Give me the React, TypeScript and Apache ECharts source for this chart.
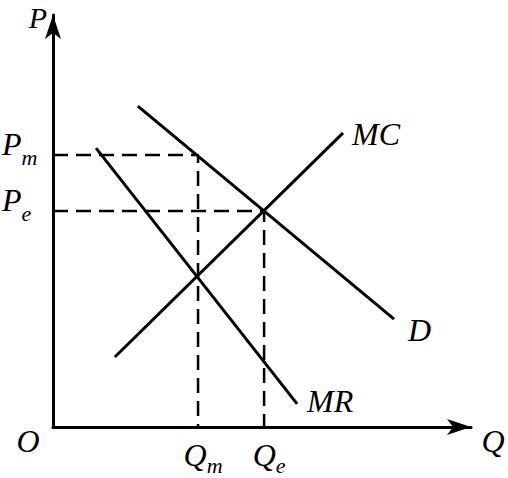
import React, { useEffect, useRef } from "react";
import * as echarts from "echarts";

// Axis ranges (abstract units)
const xRange = [0, 10];
const yRange = [0, 10];

// Curves: [Q values], [P values]
const demandQ = [2.03, 8.16];
const demandP = [7.79, 2.62];
const mcQ = [1.48, 6.94];
const mcP = [1.7, 7.14];
const mrQ = [1.03, 5.84];
const mrP = [6.77, 0.56];

// Key points
const Qm = 3.47;
const Pm = 6.6;
const Qe = 5.05;
const Pe = 5.24;

const curveNames = ["D", "MC", "MR"];
const yTickLabels = ["P_m", "P_e"];
const xTickLabels = ["Q_m", "Q_e"];

const FONT = "'Liberation Serif', 'Times New Roman', serif";

function pairs(xs: number[], ys: number[]) {
  return xs.map((x, i) => [x, ys[i]]);
}

export default function App() {
  const ref = useRef<HTMLDivElement>(null);

  useEffect(() => {
    if (!ref.current) return;
    const chart = echarts.init(ref.current, undefined, { renderer: "svg" });

    const solid = { color: "#000", width: 3 };
    const dashed = { color: "#000", width: 2.5, type: [15, 8] as any };
    const labelBase = {
      fontFamily: FONT,
      fontStyle: "italic" as const,
      fontSize: 32,
      color: "#000",
    };

    const curveSeries = (name: string, data: number[][], distance: number, offset: number[]) => ({
      type: "line",
      name,
      data,
      showSymbol: false,
      symbol: "none",
      lineStyle: solid,
      z: 5,
      clip: false,
      endLabel: {
        show: true,
        formatter: name,
        distance,
        offset,
        ...labelBase,
      },
    });

    const richY = {
      p: { ...labelBase, fontSize: 32 },
      s: { ...labelBase, fontSize: 22, padding: [28, 0, 0, 0] },
    };
    const richX = {
      q: { ...labelBase, fontSize: 32 },
      s: { ...labelBase, fontSize: 22, padding: [20, 0, 0, 0] },
    };

    chart.setOption({
      animation: false,
      backgroundColor: "#fff",
      grid: { left: 53, right: 37, top: 15, bottom: 51, containLabel: false, outerBoundsMode: "none" } as any,
      xAxis: {
        type: "value",
        min: xRange[0],
        max: xRange[1],
        splitLine: { show: false },
        axisTick: { show: false },
        axisLine: {
          show: true,
          onZero: false,
          lineStyle: { color: "#000", width: 3 },
          symbol: ["none", "arrow"],
          symbolSize: [12, 24],
        },
        axisLabel: {
          show: true,
          customValues: [Qm, Qe],
          margin: 7,
          padding: [0, 0, 0, 10],
          formatter: (v: number) => {
            const lbl = v === Qm ? xTickLabels[0] : xTickLabels[1];
            const [a, b] = lbl.split("_");
            return `{q|${a}}{s|${b}}`;
          },
          rich: richX,
        },
      },
      yAxis: {
        type: "value",
        min: yRange[0],
        max: yRange[1],
        splitLine: { show: false },
        axisTick: { show: false },
        axisLine: {
          show: true,
          onZero: false,
          lineStyle: { color: "#000", width: 3 },
          symbol: ["none", "arrow"],
          symbolSize: [12, 24],
        },
        axisLabel: {
          show: true,
          customValues: [Pm, Pe],
          align: "left",
          margin: 51,
          padding: [0, 0, 23, 0],
          formatter: (v: number) => {
            const lbl = v === Pm ? yTickLabels[0] : yTickLabels[1];
            const [a, b] = lbl.split("_");
            return `{p|${a}}{s|${b}}`;
          },
          rich: richY,
        },
      },
      series: [
        {
          type: "line",
          name: "Pm guide",
          data: [[0, Pm], [Qm, Pm], [Qm, 0]],
          showSymbol: false,
          symbol: "none",
          lineStyle: dashed,
          z: 3,
          clip: false,
        },
        {
          type: "line",
          name: "Pe guide",
          data: [[0, Pe], [Qe, Pe], [Qe, 0]],
          showSymbol: false,
          symbol: "none",
          lineStyle: dashed,
          z: 3,
          clip: false,
        },
        curveSeries(curveNames[0], pairs(demandQ, demandP), 14, [0, 11]),
        curveSeries(curveNames[1], pairs(mcQ, mcP), 9, [0, 1]),
        curveSeries(curveNames[2], pairs(mrQ, mrP), 10, [0, -3]),
      ],
      graphic: [
        { type: "text", x: 38, y: 17, style: { text: "P", font: `italic 30px ${FONT}`, fill: "#000", align: "center", verticalAlign: "middle" } },
        { type: "text", x: 28, y: 441, style: { text: "O", font: `italic 32px ${FONT}`, fill: "#000", align: "center", verticalAlign: "middle" } },
        { type: "text", x: 493, y: 441, style: { text: "Q", font: `italic 32px ${FONT}`, fill: "#000", align: "center", verticalAlign: "middle" } },
      ],
    });

    return () => chart.dispose();
  }, []);

  return (
    <div
      ref={ref}
      style={{ position: "fixed", left: 0, top: 0, width: 508, height: 478, background: "#fff" }}
    />
  );
}
